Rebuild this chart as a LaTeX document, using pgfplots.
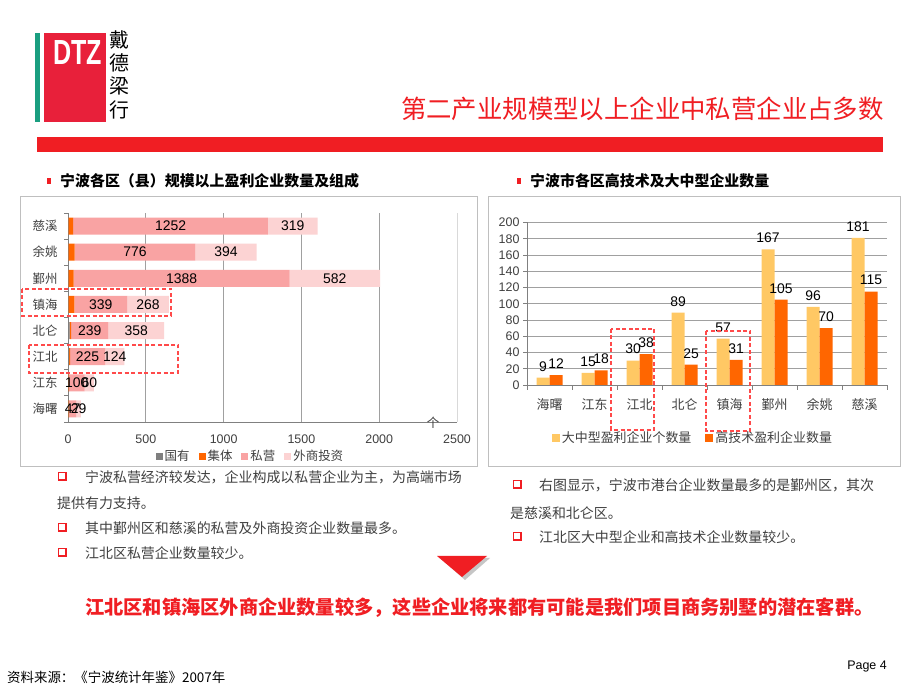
\documentclass[border=0pt]{standalone}
\usepackage{fontspec}
\setmainfont{Liberation Sans}
\newfontfamily\cjk{Noto Sans CJK SC}
\usepackage{pgfplots}
\usepackage{pgfplotstable}
\pgfplotsset{compat=1.18}
\pgfplotsset{/pgf/number format/assume math mode=true, /pgf/number format/1000 sep={}}

\definecolor{dtzred}{HTML}{F01E23}
\definecolor{logored}{HTML}{E8203A}
\definecolor{logogreen}{HTML}{1A9E80}
\definecolor{govgray}{HTML}{7F7F7F}
\definecolor{collorange}{HTML}{FF6600}
\definecolor{privpink}{HTML}{F9A3A3}
\definecolor{fdipink}{HTML}{FCD3D3}
\definecolor{bigyellow}{HTML}{FFC864}
\definecolor{txtgray}{HTML}{404040}
\definecolor{boxred}{HTML}{FF4A4A}
\definecolor{gridgray}{HTML}{A0A0A0}

\newcommand{\fs}[1]{\fontsize{#1}{#1}\selectfont}
\newcommand{\qbox}[2]{\fill[dtzred] (#1,#2) rectangle ++(9,-9);
  \fill[white] (#1+1.4,#2-1.4) rectangle ++(5.2,-5.2);}

% 规模以上盈利企业: 国有, 集体, 私营, 外商投资 (y: 0=海曙 ... 7=慈溪)
\pgfplotstableread{
y gov coll priv fdi
0 3 4 47 29
1 3 4 100 60
2 8 5 225 124
3 10 10 239 358
4 3 38 339 268
5 3 33 1388 582
6 3 40 776 394
7 3 30 1252 319
}\tabOwn

% 大中型 / 高技术 盈利企业数量
\pgfplotstableread{
x big tech
0 9 12
1 15 18
2 30 38
3 89 25
4 57 31
5 167 105
6 96 70
7 181 115
}\tabSize

\begin{document}
\begin{tikzpicture}[x=1bp,y=1bp]
\path[use as bounding box, fill=white] (0,0) rectangle (920,690);

% logo and header
\fill[logogreen] (35,657) rectangle (40,568);
\fill[logored] (44,657) rectangle (106,568);
\node[text=white, font=\bfseries\fs{35}, xscale=0.72, inner sep=0pt] at (77.5,637.5) {DTZ};
\node[font=\cjk\fs{20}] at (119.5,650) {戴};
\node[font=\cjk\fs{20}] at (119.5,627.5) {德};
\node[font=\cjk\fs{20}] at (119.5,604) {梁};
\node[font=\cjk\fs{20}] at (119.5,580) {行};
\node[anchor=east, text=dtzred, font=\cjk\fs{25.5}, inner sep=0pt] at (884,581) {第二产业规模型以上企业中私营企业占多数};
\fill[dtzred] (37,553) rectangle (883,538);

% section titles and frames
\fill[dtzred] (46.5,512) rectangle (50.5,506);
\node[anchor=west, font=\cjk\bfseries\fs{15}, inner sep=0pt] at (60,509) {宁波各区（县）规模以上盈利企业数量及组成};
\fill[dtzred] (516.5,512) rectangle (520.5,506);
\node[anchor=west, font=\cjk\bfseries\fs{15}, inner sep=0pt] at (530,509) {宁波市各区高技术及大中型企业数量};
\draw[gray!50, line width=1bp] (20,493) rectangle (477,223);
\draw[gray!50, line width=1bp] (488,493) rectangle (900,223);

% left chart
\begin{axis}[
  at={(68bp,268bp)}, anchor=south west, scale only axis,
  width=389bp, height=209bp,
  xbar stacked, bar width=17bp,
  xmin=0, xmax=2500, ymin=-0.5, ymax=7.5,
  xtick={0,500,...,2000}, extra x ticks={2500},
  extra x tick style={grid style={gray!30, line width=0.8bp}},
  xmajorgrids, grid style={gridgray, line width=0.8bp},
  ytick={0,...,7},
  yticklabels={海曙,江东,江北,北仑,镇海,鄞州,余姚,慈溪},
  minor ytick={-0.5,0.5,...,7.5},
  axis lines*=left, axis line style={gray, line width=0.8bp},
  tick align=outside, major tick length=4bp, minor tick length=4bp,
  major x tick style={draw=none}, major y tick style={draw=none},
  minor y tick style={gray, line width=0.8bp},
  xticklabel style={font=\fs{12.5}, text=txtgray, yshift=-5bp},
  yticklabel style={font=\cjk\fs{12.5}, text=txtgray, xshift=-3bp},
  legend columns=4,
  legend style={at={(0.469,-0.163)}, anchor=center, draw=none, fill=none,
    font=\cjk\fs{12.5}, text=txtgray,
    /tikz/every even column/.append style={column sep=7bp}},
  legend image code/.code={\fill[#1] (0bp,-3.5bp) rectangle (7bp,3.5bp);},
]
\addplot[fill=govgray, draw=none] table[x=gov, y=y]{\tabOwn};
\addlegendentry{国有}
\addplot[fill=collorange, draw=none] table[x=coll, y=y]{\tabOwn};
\addlegendentry{集体}
\addplot[fill=privpink, draw=none] table[x=priv, y=y]{\tabOwn};
\addlegendentry{私营}
\addplot[fill=fdipink, draw=none] table[x=fdi, y=y]{\tabOwn};
\addlegendentry{外商投资}
\end{axis}

% labels centred on the 私营 and 外商投资 segments
\begin{axis}[
  at={(68bp,268bp)}, anchor=south west, scale only axis,
  width=389bp, height=209bp, hide axis,
  xmin=0, xmax=2500, ymin=-0.5, ymax=7.5,
  nodes near coords, point meta=explicit, nodes near coords align=center,
  every node near coord/.append style={font=\fs{14}, text=black, anchor=center},
]
\addplot[draw=none, mark=none] table[x expr=\thisrow{gov}+\thisrow{coll}+0.5*\thisrow{priv}, y=y, meta=priv]{\tabOwn};
\addplot[draw=none, mark=none] table[x expr=\thisrow{gov}+\thisrow{coll}+\thisrow{priv}+0.5*\thisrow{fdi}, y=y, meta=fdi]{\tabOwn};
\end{axis}
\node[font=\cjk\fs{12.5}, text=txtgray] at (433,267) {个};

% right chart
\begin{axis}[
  at={(527bp,305bp)}, anchor=south west, scale only axis,
  width=360bp, height=162.5bp,
  ybar=0pt, bar width=13bp,
  xmin=-0.5, xmax=7.5, ymin=0, ymax=200,
  ytick={0,20,...,200}, ymajorgrids, grid style={gridgray, line width=0.8bp},
  xtick={0,...,7},
  xticklabels={海曙,江东,江北,北仑,镇海,鄞州,余姚,慈溪},
  minor xtick={-0.5,0.5,...,7.5},
  axis lines*=left, axis line style={gray, line width=0.8bp},
  tick align=outside, major tick length=4bp, minor tick length=5bp,
  major x tick style={draw=none}, minor x tick style={gray, line width=0.8bp},
  major y tick style={gray, line width=0.8bp},
  yticklabel style={font=\fs{12.5}, text=txtgray},
  xticklabel style={font=\cjk\fs{13}, text=txtgray, yshift=-6bp},
  nodes near coords,
  every node near coord/.append style={font=\fs{14}, text=black, yshift=3bp},
  legend columns=2,
  legend style={at={(0.461,-0.327)}, anchor=center, draw=none, fill=none,
    font=\cjk\fs{13}, text=txtgray,
    /tikz/every even column/.append style={column sep=12bp}},
  legend image code/.code={\fill[#1] (0bp,-4bp) rectangle (8bp,4bp);},
]
\addplot[fill=bigyellow, draw=none] table[x=x, y=big]{\tabSize};
\addlegendentry{大中型盈利企业个数量}
\addplot[fill=collorange, draw=none] table[x=x, y=tech]{\tabSize};
\addlegendentry{高技术盈利企业数量}
\end{axis}

% highlight boxes
\begin{scope}[boxred, line width=1.1bp, dash pattern=on 4bp off 2.5bp]
\draw (22,401) rectangle (171,374);
\draw (29,345) rectangle (178,317);
\draw (611,361) rectangle (654,260);
\draw (706,359) rectangle (750,259);
\end{scope}

% bullet notes
\begin{scope}[every node/.style={anchor=west, inner sep=0pt, font=\cjk\fs{14}, text=txtgray}]
\qbox{58}{218}
\node at (85,213) {宁波私营经济较发达，企业构成以私营企业为主，为高端市场};
\node at (57,187) {提供有力支持。};
\qbox{58}{167}
\node at (85,162) {其中鄞州区和慈溪的私营及外商投资企业数量最多。};
\qbox{58}{142}
\node at (85,137) {江北区私营企业数量较少。};
\qbox{513}{210}
\node at (539,205) {右图显示，宁波市港台企业数量最多的是鄞州区，其次};
\node at (510,177) {是慈溪和北仑区。};
\qbox{513}{158}
\node at (539,153) {江北区大中型企业和高技术企业数量较少。};
\end{scope}

% arrow and conclusion
\fill[gray!45] (440,132) -- (490,132) -- (465,110) -- cycle;
\fill[dtzred] (437,134) -- (487,134) -- (462,113) -- cycle;
\node[anchor=west, inner sep=0pt, font=\cjk\bfseries\fs{19.3}, text=dtzred] at (85,82)
  {江北区和镇海区外商企业数量较多，这些企业将来都有可能是我们项目商务别墅的潜在客群。};

% footer
\node[anchor=east, inner sep=0pt, font=\fs{12.5}] at (887,23) {Page 4};
\node[anchor=west, inner sep=0pt, font=\cjk\fs{13.5}] at (7,13) {资料来源：《宁波统计年鉴》2007年};
\end{tikzpicture}
\end{document}
